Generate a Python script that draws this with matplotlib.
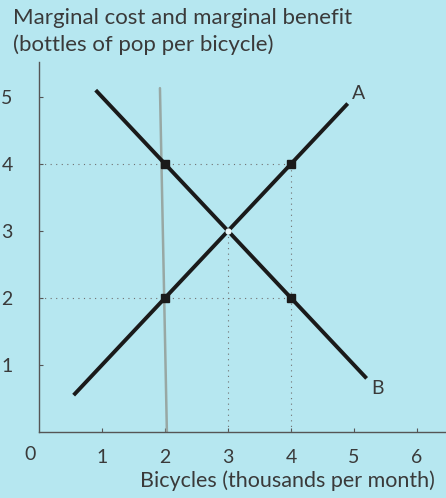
import matplotlib.pyplot as plt

# curve A (rising) and curve B (falling), in bicycles / bottles units
a_x = [0.55, 4.9]
a_y = [0.55, 4.9]
b_x = [0.9, 5.2]
b_y = [5.1, 0.8]

# highlighted points on the curves
pts_x = [2, 4, 2, 4]
pts_y = [4, 4, 2, 2]
eq_x, eq_y = 3, 3

# pencil mark near x = 2
pencil_x = [1.92, 2.03]
pencil_y = [5.13, 0.0]

x_ticks = [1, 2, 3, 4, 5, 6]
y_ticks = [1, 2, 3, 4, 5]

bg = "#b6e7f0"
ink = "#1a1a1a"
txt = "#3a3a3a"

plt.rcParams["font.family"] = ["Lato", "DejaVu Sans"]

fig = plt.figure(figsize=(4.46, 4.98), dpi=100, facecolor=bg)
ax = fig.add_axes([0.0874, 0.1325, 0.9126, 0.743], facecolor=bg)
ax.set_xlim(0, 6.46)
ax.set_ylim(0, 5.52)

for s in ["top", "right"]:
    ax.spines[s].set_visible(False)
for s in ["left", "bottom"]:
    ax.spines[s].set_color("#555555")
    ax.spines[s].set_linewidth(1.0)

# dotted guides
dot = dict(color="#707070", linestyle=(0, (1, 4)), linewidth=0.8)
ax.plot([0, 4], [4, 4], **dot)
ax.plot([0, 4], [2, 2], **dot)
ax.plot([3, 3], [0, 3], **dot)
ax.plot([4, 4], [0, 4], **dot)

ax.plot(pencil_x, pencil_y, color="#98a8a4", linewidth=1.8, solid_capstyle="round")

ax.plot(a_x, a_y, color=ink, linewidth=2.8, solid_capstyle="butt")
ax.plot(b_x, b_y, color=ink, linewidth=2.8, solid_capstyle="butt")
ax.plot(pts_x, pts_y, "s", color=ink, markersize=6)
ax.plot([eq_x], [eq_y], "o", color="#e8f6f8", markersize=4.5, markeredgewidth=0)

ax.text(4.97, 5.05, "A", fontsize=14, color=txt, ha="left", va="center")
ax.text(5.27, 0.65, "B", fontsize=14, color=txt, ha="left", va="center")

ax.set_xticks(x_ticks)
ax.set_yticks(y_ticks)
ax.tick_params(axis="x", direction="in", length=3, pad=12, labelsize=14,
               colors="#555555", labelcolor=txt)
ax.tick_params(axis="y", direction="in", length=3, pad=19, labelsize=14,
               colors="#555555", labelcolor=txt)
ax.text(-0.14, -0.34, "0", fontsize=14, color=txt, ha="center", va="center",
        clip_on=False)

fig.text(0.03, 0.964, "Marginal cost and marginal benefit", fontsize=16,
         color=txt, ha="left", va="center")
fig.text(0.03, 0.91, "(bottles of pop per bicycle)", fontsize=16,
         color=txt, ha="left", va="center")
fig.text(0.315, 0.035, "Bicycles (thousands per month)", fontsize=15.5,
         color=txt, ha="left", va="center")

fig.savefig("out.png", dpi=100, facecolor=bg)
